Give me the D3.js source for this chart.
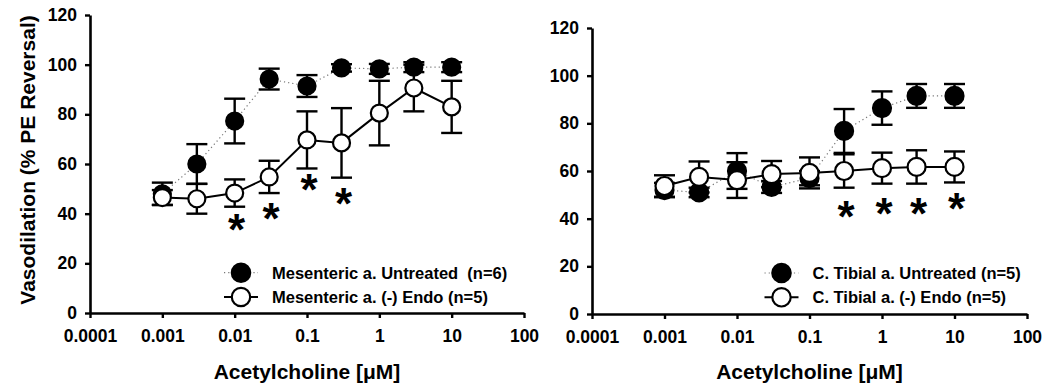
<!DOCTYPE html>
<html lang="en">
<head>
<meta charset="UTF-8">
<title>Acetylcholine vasodilation</title>
<script src="https://cdn.jsdelivr.net/npm/d3@7"></script>
<style>
    body { margin: 0; background: #fff; }
    svg text { font-family: Arial, "Liberation Sans", sans-serif; font-weight: bold; fill: #000; white-space: pre; }
</style>
</head>
<body>
<script>
// data
const doses = [0.001, 0.003, 0.01, 0.03, 0.1, 0.3, 1, 3, 10];
const xTicks = [0.0001, 0.001, 0.01, 0.1, 1, 10, 100];
const xTickLabels = ["0.0001", "0.001", "0.01", "0.1", "1", "10", "100"];
const yTicks = [0, 20, 40, 60, 80, 100, 120];

const mesUntreated = [48, 60, 77.3, 94.2, 91.4, 98.7, 98.3, 99, 99];
const mesUntreatedErr = [4.5, 8, 9, 4.2, 4.4, 1.5, 2, 2, 2];
const mesEndo = [46.5, 46, 48.3, 54.8, 69.7, 68.5, 80.5, 90.6, 83];
const mesEndoErr = [3, 6, 5.5, 6.5, 11.5, 14, 13, 9.4, 10.5];
const mesStarDoses = [0.01, 0.03, 0.1, 0.3];
const mesStarY = [36.2, 40.7, 52.4, 46.7];
const mesLegend = ["Mesenteric a. Untreated  (n=6)", "Mesenteric a. (-) Endo (n=5)"];

const tibUntreated = [52, 51, 60, 53.3, 57, 76.8, 86.4, 91.5, 91.5];
const tibUntreatedErr = [3, 2, 7.5, 2.5, 3, 9.2, 7, 5, 5];
const tibEndo = [53.7, 57.5, 56.2, 58.7, 59.2, 60, 61.2, 61.7, 61.7];
const tibEndoErr = [4.5, 6.5, 7.5, 5.5, 6.5, 7, 6.5, 7, 6.5];
const tibStarDoses = [0.3, 1, 3, 10];
const tibStarY = [43.6, 44.9, 44.9, 47];
const tibLegend = ["C. Tibial a. Untreated (n=5)", "C. Tibial a. (-) Endo (n=5)"];

const xTitle = "Acetylcholine [\u03BCM]";
const yTitle = "Vasodilation (% PE Reversal)";

const svg = d3.select("body").append("svg")
    .attr("width", 1047).attr("height", 387);

function panel(o) {
    const x = d3.scaleLog().domain([0.0001, 100]).range([o.x0, o.x1]);
    const y = d3.scaleLinear().domain([0, 120]).range([o.yBot, o.yTop]);
    const g = svg.append("g");

    // axes
    const xAxis = g.append("g")
        .attr("transform", "translate(0," + o.yBot + ")")
        .call(d3.axisBottom(x).tickValues(xTicks)
            .tickFormat((d, i) => xTickLabels[i]).tickSize(5).tickSizeOuter(0).tickPadding(12));
    const yAxis = g.append("g")
        .attr("transform", "translate(" + o.x0 + ",0)")
        .call(d3.axisLeft(y).tickValues(yTicks).tickSize(5).tickSizeOuter(0).tickPadding(8));
    [xAxis, yAxis].forEach(a => {
        a.select(".domain").attr("stroke", "#000").attr("stroke-width", 2.6);
        a.selectAll(".tick line").attr("stroke", "#000").attr("stroke-width", 2.4);
        a.selectAll(".tick text").style("font-size", "17.5px").attr("fill", "#000");
    });

    g.append("text")
        .attr("x", (o.x0 + o.x1) / 2).attr("y", 379)
        .attr("text-anchor", "middle").style("font-size", "21px")
        .text(xTitle);

    // series: filled (dotted line) then open (solid line)
    const series = [
        { v: o.s1, e: o.s1Err, fill: "#000", line: "#777", dash: "1.2,3", lw: 1.2 },
        { v: o.s2, e: o.s2Err, fill: "#fff", line: "#000", dash: null, lw: 2 }
    ];
    const cap = 10.5;
    series.forEach(s => {
        const pts = doses.map((d, i) => ({ d: d, v: s.v[i], e: s.e[i] }));
        g.append("path").datum(pts)
            .attr("fill", "none").attr("stroke", s.line).attr("stroke-width", s.lw)
            .attr("stroke-dasharray", s.dash)
            .attr("d", d3.line().x(p => x(p.d)).y(p => y(p.v)));
        const eb = g.append("g").attr("stroke", "#000").attr("stroke-width", 2.4);
        pts.forEach(p => {
            const cx = x(p.d), hi = y(p.v + p.e), lo = y(p.v - p.e);
            eb.append("line").attr("x1", cx).attr("x2", cx).attr("y1", hi).attr("y2", lo);
            eb.append("line").attr("x1", cx - cap).attr("x2", cx + cap).attr("y1", hi).attr("y2", hi);
            eb.append("line").attr("x1", cx - cap).attr("x2", cx + cap).attr("y1", lo).attr("y2", lo);
        });
        g.selectAll(null).data(pts).enter().append("circle")
            .attr("cx", p => x(p.d)).attr("cy", p => y(p.v)).attr("r", o.r)
            .attr("fill", s.fill).attr("stroke", "#000").attr("stroke-width", 2.2);
    });

    // significance marks
    o.starDoses.forEach((d, i) => {
        g.append("text")
            .attr("x", x(d) + 2).attr("y", y(o.starY[i]))
            .attr("dy", "0.5em")
            .attr("text-anchor", "middle").style("font-size", "44px")
            .text("*");
    });

    // legend
    const lx = o.legX, rows = [o.legY, o.legY + 24.3];
    rows.forEach((ly, i) => {
        const s = series[i];
        g.append("line").attr("x1", lx - 17).attr("x2", lx + 17).attr("y1", ly).attr("y2", ly)
            .attr("stroke", s.line).attr("stroke-width", s.lw).attr("stroke-dasharray", s.dash);
        g.append("circle").attr("cx", lx).attr("cy", ly).attr("r", 9.2)
            .attr("fill", s.fill).attr("stroke", "#000").attr("stroke-width", 2.2);
        g.append("text").attr("x", lx + 31).attr("y", ly + 5.8)
            .style("font-size", "16.5px").text(o.legend[i]);
    });
}

panel({ x0: 90, x1: 524, yTop: 15, yBot: 313, r: 8.5,
    s1: mesUntreated, s1Err: mesUntreatedErr, s2: mesEndo, s2Err: mesEndoErr,
    starDoses: mesStarDoses, starY: mesStarY, legend: mesLegend, legX: 241, legY: 272.7 });
panel({ x0: 592, x1: 1027, yTop: 28, yBot: 314, r: 9,
    s1: tibUntreated, s1Err: tibUntreatedErr, s2: tibEndo, s2Err: tibEndoErr,
    starDoses: tibStarDoses, starY: tibStarY, legend: tibLegend, legX: 781.5, legY: 273 });

svg.append("text")
    .attr("transform", "translate(35,160) rotate(-90)")
    .attr("text-anchor", "middle").style("font-size", "21px")
    .text(yTitle);
</script>
</body>
</html>
